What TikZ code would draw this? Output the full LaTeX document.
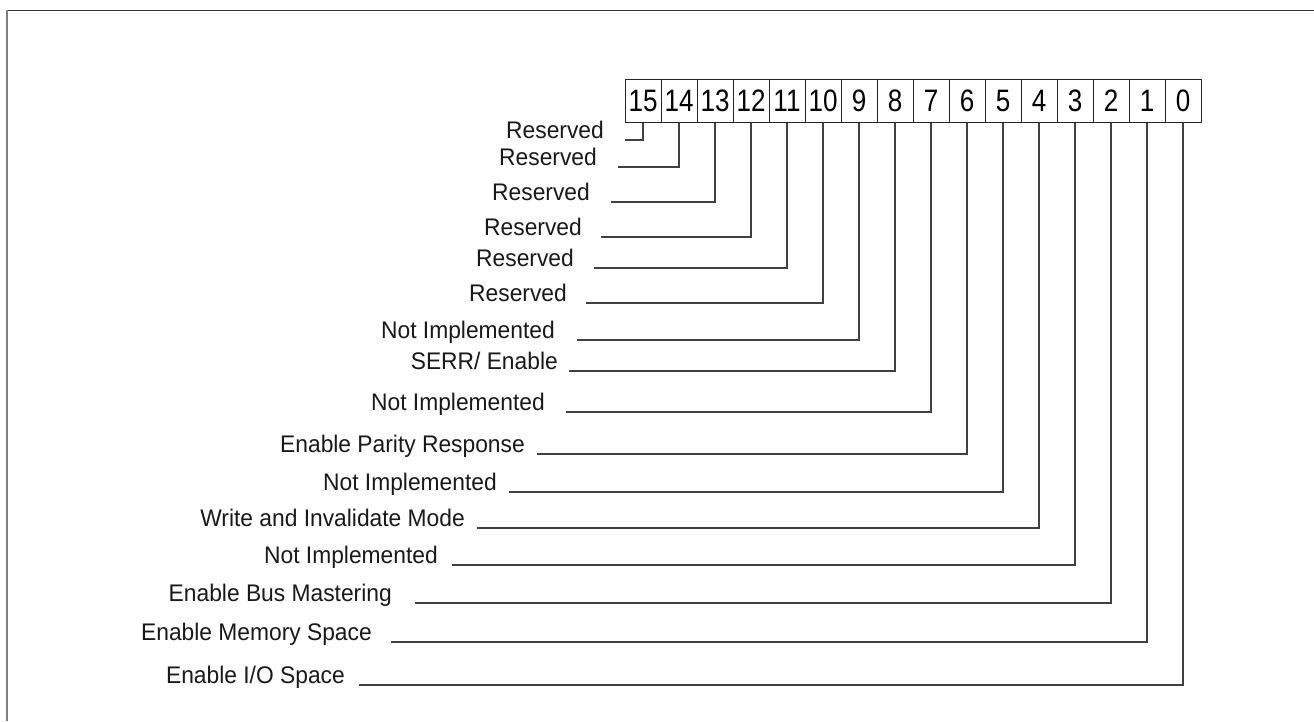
\documentclass[tikz,border=0pt]{standalone}
\usepackage{fontspec}
\setmainfont{Liberation Sans}
\newcommand{\lbltxt}[1]{\scalebox{0.95}[1]{#1}}
\newcommand{\bittxt}[1]{\scalebox{0.84}[1]{#1}}
\begin{document}
\begin{tikzpicture}[x=1pt,y=-1pt,
  bitbox/.style={draw=black!85,line width=1pt,minimum width=36pt,minimum height=43pt,inner sep=0pt,
    font=\fontsize{31}{32}\selectfont},
  lbl/.style={anchor=base east,inner sep=0pt,font=\fontsize{24}{28}\selectfont,text=black!90},
  conn/.style={draw=black!75,line width=1.2pt}]
\useasboundingbox (0,0) rectangle (1314,721);
\fill[white] (0,0) rectangle (1314,721);
% frame
\draw[black!80,line width=1pt] (7,10) -- (1314,10);
\draw[black!50,line width=2pt] (7,10) -- (7,721);
% bit boxes
\foreach \i in {0,...,15}{
  \node[bitbox] (B\i) at ({643+36*(15-\i)},100.5) {\bittxt{\i}};
}
% labels
\node[lbl] (L15) at (604,138) {\lbltxt{Reserved}};
\node[lbl] (L14) at (597,165) {\lbltxt{Reserved}};
\node[lbl] (L13) at (590,200) {\lbltxt{Reserved}};
\node[lbl] (L12) at (582,235) {\lbltxt{Reserved}};
\node[lbl] (L11) at (574,266) {\lbltxt{Reserved}};
\node[lbl] (L10) at (567,301) {\lbltxt{Reserved}};
\node[lbl] (L9) at (555,338) {\lbltxt{Not Implemented}};
\node[lbl] (L8) at (558,369) {\lbltxt{SERR/ Enable}};
\node[lbl] (L7) at (545,410) {\lbltxt{Not Implemented}};
\node[lbl] (L6) at (525,452) {\lbltxt{Enable Parity Response}};
\node[lbl] (L5) at (497,490) {\lbltxt{Not Implemented}};
\node[lbl] (L4) at (465,526) {\lbltxt{Write and Invalidate Mode}};
\node[lbl] (L3) at (438,563) {\lbltxt{Not Implemented}};
\node[lbl] (L2) at (392,601) {\lbltxt{Enable Bus Mastering}};
\node[lbl] (L1) at (372,640) {\lbltxt{Enable Memory Space}};
\node[lbl] (L0) at (345,683) {\lbltxt{Enable I/O Space}};
% connector start points
\coordinate (s15) at (625,140);
\coordinate (s14) at (618,167);
\coordinate (s13) at (611,202);
\coordinate (s12) at (601,237);
\coordinate (s11) at (594,268);
\coordinate (s10) at (586,303);
\coordinate (s9) at (577,340);
\coordinate (s8) at (569,371);
\coordinate (s7) at (566,412);
\coordinate (s6) at (537,454);
\coordinate (s5) at (509,492);
\coordinate (s4) at (477,528);
\coordinate (s3) at (452,565);
\coordinate (s2) at (415,603);
\coordinate (s1) at (391,642);
\coordinate (s0) at (359,685);
\foreach \i in {0,...,15}{
  \draw[conn] (s\i) -| (B\i.south);
}
\end{tikzpicture}
\end{document}
